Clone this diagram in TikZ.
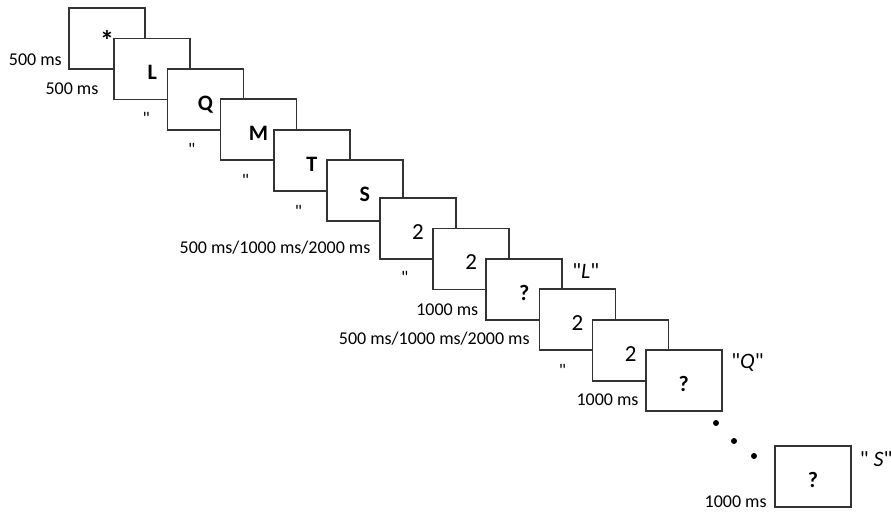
\documentclass[tikz,border=0pt]{standalone}
\usepackage{fontspec}
\setmainfont{Carlito}[Ligatures=TeXOff]
\usepackage{tikz}
\usetikzlibrary{positioning}
\tikzstyle{screen} = [rectangle, 
minimum width=38pt, 
minimum height=30.5pt,
text height=11pt, 
text depth=0pt,
inner sep=0pt,
draw=black!80, 
line width=0.85pt,
fill=white,
font=\fontsize{11}{13}\selectfont\bfseries]
\tikzstyle{digit} = [screen, 
font=\fontsize{11.5}{13}\selectfont]
\tikzstyle{timing} = [inner sep=0pt, 
text height=6.5pt, 
text depth=0pt, 
font=\fontsize{9}{11}\selectfont]
\tikzstyle{answer} = [inner sep=0pt, 
text height=7pt, 
text depth=0pt, 
font=\fontsize{11}{13}\selectfont]
\tikzstyle{dot} = [circle, fill=black, inner sep=0pt, minimum size=3pt]

\begin{document}
\begin{tikzpicture}[x=0.5pt, y=-0.5pt, node distance=26.575pt]
\useasboundingbox (0,0) rectangle (891,513);

\node (s1) [screen, font=\fontsize{14}{16}\selectfont\bfseries, text height=12pt] at (107,38.7) {*};
\node (s2) [screen, right of=s1, xshift=-3.95pt, yshift=-15.15pt] {L};
\node (s3) [screen, right of=s2, yshift=-15.2pt] {Q};
\node (s4) [screen, right of=s3, yshift=-15.2pt] {M};
\node (s5) [screen, right of=s4, yshift=-15.2pt] {T};
\node (s6) [screen, right of=s5, yshift=-15.2pt] {S};
\node (s7) [digit, right of=s6, yshift=-19pt] {2};
\node (s8) [digit, right of=s7, yshift=-15.2pt] {2};
\node (s9) [screen, right of=s8, yshift=-15.2pt] {?};
\node (s10) [digit, right of=s9, yshift=-15.2pt] {2};
\node (s11) [digit, right of=s10, yshift=-15.2pt] {2};
\node (s12) [screen, right of=s11, yshift=-15.2pt] {?};
%\node (s13) [screen, below right of=s12] {?};
\node (s13) [screen, right of=s12, xshift=38pt, yshift=-47.8pt] {?};

% dots between the last two probes
\node (d1) [dot] at (716,423) {};
\node (d2) [dot] at (734,441) {};
\node (d3) [dot] at (754,456) {};

% Place durations left of the screens
\node (t1) [timing, left=3pt of s1.south west, yshift=5.4pt] {500 ms};
\node (t2) [timing, left=7.3pt of s2.south west, yshift=6.2pt] {500 ms};
\node (t3) [timing, left=8.2pt of s3.south west, yshift=6.2pt] {"};
\node (t4) [timing, left=12pt of s4.south west, yshift=6.2pt] {"};
\node (t5) [timing, left=11.7pt of s5.south west, yshift=5.6pt] {"};
\node (t6) [timing, left=11.7pt of s6.south west, yshift=5.4pt] {"};
\node (t7) [timing, left=4.2pt of s7.south west, yshift=6.5pt] {500 ms/1000 ms/2000 ms};
\node (t8) [timing, left=11.8pt of s8.south west, yshift=6.5pt] {"};
\node (t9) [timing, left=3.4pt of s9.south west, yshift=5.75pt] {1000 ms};
\node (t10) [timing, left=4.3pt of s10.south west, yshift=6.5pt] {500 ms/1000 ms/2000 ms};
\node (t11) [timing, left=12.6pt of s11.south west, yshift=5.65pt] {"};
\node (t12) [timing, left=3pt of s12.south west, yshift=6.6pt] {1000 ms};
\node (t13) [timing, left=3.5pt of s13.south west, yshift=3.5pt] {1000 ms};

% answers right of the probes
\node (a9) [answer, right=4.4pt of s9.north east, yshift=-6.7pt] {"\textit{L}"};
\node (a12) [answer, right=4.2pt of s12.north east, yshift=-6.3pt] {"\textit{Q}"};
\node (a13) [answer, right=3.9pt of s13.north east, yshift=-7.5pt] {" \textit{S}"};

\end{tikzpicture}
\end{document}
